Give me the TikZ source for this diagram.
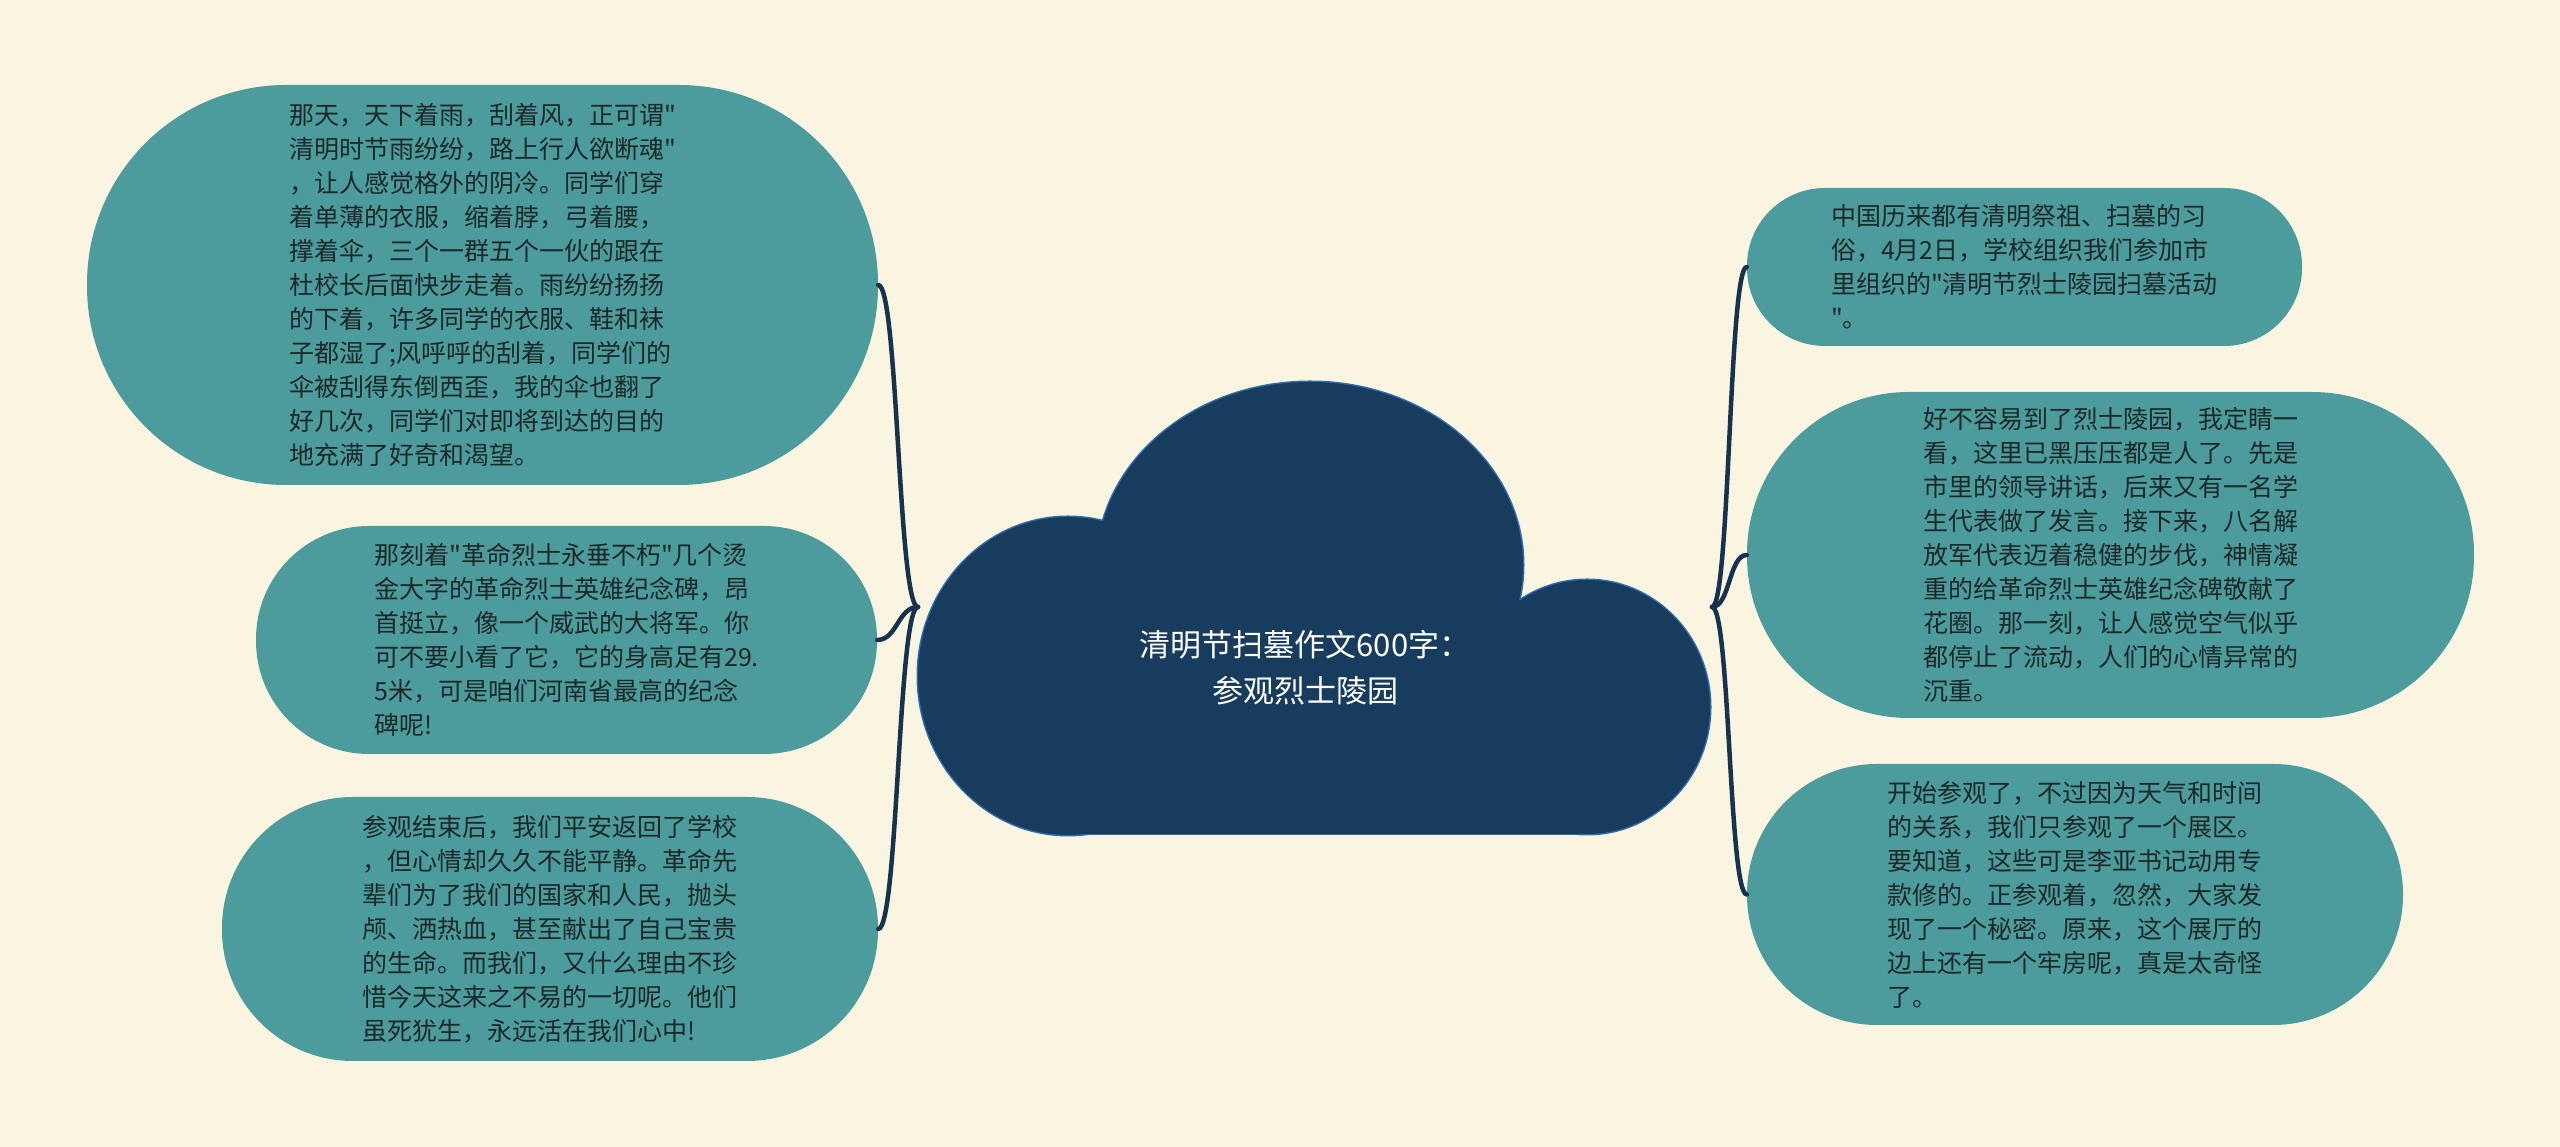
\documentclass[tikz,border=0pt]{standalone}
\usepackage{fontspec}
\newfontfamily\cjkfont{Noto Sans CJK SC}
\definecolor{bgc}{HTML}{FAF5E1}
\definecolor{tealbox}{HTML}{4D9C9D}
\definecolor{navy}{HTML}{173C5D}
\definecolor{cloudline}{HTML}{2F6CB0}
\definecolor{conncol}{HTML}{17324F}
\definecolor{txt}{HTML}{1C2828}
\begin{document}
\begin{tikzpicture}[x=1pt,y=1pt,
  topic/.style={fill=tealbox, inner sep=0pt, align=left, text=txt, font=\cjkfont\fontsize{25}{34}\selectfont},
  conn/.style={draw=conncol, line width=4.5pt, line cap=round},
  rootlabel/.style={align=center, text=white, font=\cjkfont\fontsize{31}{46}\selectfont},
  cloudborder/.style={fill=navy, draw=cloudline, line width=3pt},
  cloudfill/.style={fill=navy}]
\fill[bgc] (0,0) rectangle (2560,1147);
\useasboundingbox (0,0) rectangle (2560,1147);

% cloud
\path[cloudborder] (1068,471) ellipse [x radius=150pt, y radius=159pt];
\path[cloudborder] (1587,440) ellipse [x radius=123pt, y radius=127pt];
\path[cloudborder] (1310,582) ellipse [x radius=213pt, y radius=183pt];
\path[cloudborder] (1068,313) rectangle (1587,547);
\path[cloudfill] (1068,471) ellipse [x radius=150pt, y radius=159pt];
\path[cloudfill] (1587,440) ellipse [x radius=123pt, y radius=127pt];
\path[cloudfill] (1310,582) ellipse [x radius=213pt, y radius=183pt];
\path[cloudfill] (1068,313) rectangle (1587,547);

\node[rootlabel] (root) at (1305,479) {清明节扫墓作文600字：\\参观烈士陵园};

% left topics
\node[topic, minimum width=791pt, minimum height=400pt, rounded corners=199pt] (n1) at (482.5,862) {那天，天下着雨，刮着风，正可谓"\\清明时节雨纷纷，路上行人欲断魂"\\，让人感觉格外的阴冷。同学们穿\\着单薄的衣服，缩着脖，弓着腰，\\撑着伞，三个一群五个一伙的跟在\\杜校长后面快步走着。雨纷纷扬扬\\的下着，许多同学的衣服、鞋和袜\\子都湿了;风呼呼的刮着，同学们的\\伞被刮得东倒西歪，我的伞也翻了\\好几次，同学们对即将到达的目的\\地充满了好奇和渴望。};
\node[topic, minimum width=621pt, minimum height=228pt, rounded corners=113pt] (n2) at (566.5,507) {那刻着"革命烈士永垂不朽"几个烫\\金大字的革命烈士英雄纪念碑，昂\\首挺立，像一个威武的大将军。你\\可不要小看了它，它的身高足有29.\\5米，可是咱们河南省最高的纪念\\碑呢!};
\node[topic, minimum width=656pt, minimum height=264pt, rounded corners=131pt] (n3) at (550,218) {参观结束后，我们平安返回了学校\\，但心情却久久不能平静。革命先\\辈们为了我们的国家和人民，抛头\\颅、洒热血，甚至献出了自己宝贵\\的生命。而我们，又什么理由不珍\\惜今天这来之不易的一切呢。他们\\虽死犹生，永远活在我们心中!};

% right topics
\node[topic, minimum width=555pt, minimum height=158pt, rounded corners=78pt] (n4) at (2024.5,880) {中国历来都有清明祭祖、扫墓的习\\俗，4月2日，学校组织我们参加市\\里组织的"清明节烈士陵园扫墓活动\\"。};
\node[topic, minimum width=727pt, minimum height=326pt, rounded corners=162pt] (n5) at (2110.5,592) {好不容易到了烈士陵园，我定睛一\\看，这里已黑压压都是人了。先是\\市里的领导讲话，后来又有一名学\\生代表做了发言。接下来，八名解\\放军代表迈着稳健的步伐，神情凝\\重的给革命烈士英雄纪念碑敬献了\\花圈。那一刻，让人感觉空气似乎\\都停止了流动，人们的心情异常的\\沉重。};
\node[topic, minimum width=656pt, minimum height=261pt, rounded corners=130pt] (n6) at (2075,252.5) {开始参观了，不过因为天气和时间\\的关系，我们只参观了一个展区。\\要知道，这些可是李亚书记动用专\\款修的。正参观着，忽然，大家发\\现了一个秘密。原来，这个展厅的\\边上还有一个牢房呢，真是太奇怪\\了。};

% connectors
\coordinate (jL) at (918,540);
\coordinate (jR) at (1712,540);
\draw[conn] (jL) .. controls +(-20,0) and +(20,0) .. (n1.east);
\draw[conn] (jL) .. controls +(-20,0) and +(20,0) .. (n2.east);
\draw[conn] (jL) .. controls +(-20,0) and +(20,0) .. (n3.east);
\draw[conn] (jR) .. controls +(18,0) and +(-18,0) .. (n4.west);
\draw[conn] (jR) .. controls +(18,0) and +(-18,0) .. (n5.west);
\draw[conn] (jR) .. controls +(18,0) and +(-18,0) .. (n6.west);
\end{tikzpicture}
\end{document}
